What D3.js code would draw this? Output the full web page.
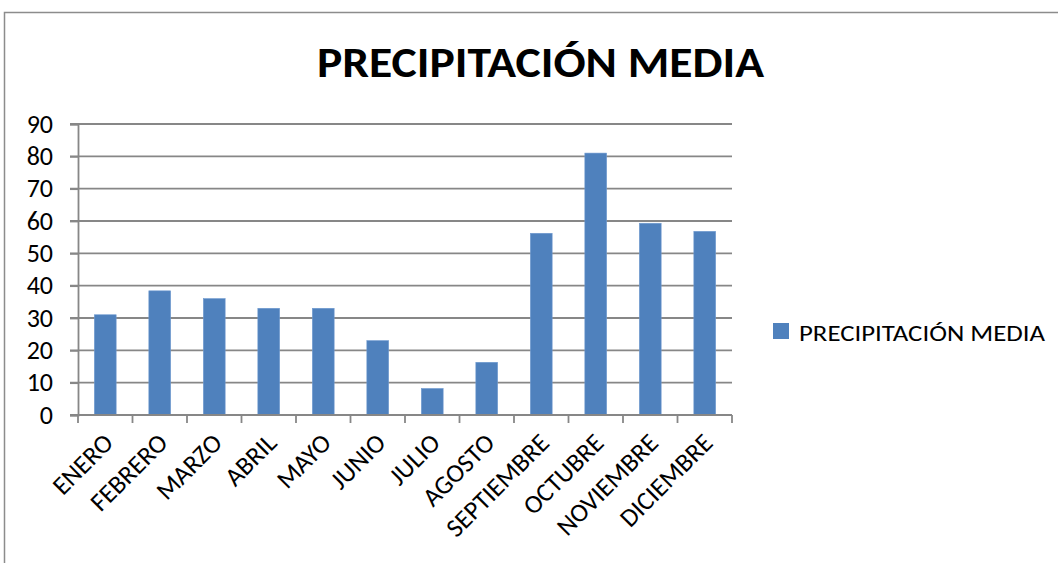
<!DOCTYPE html>
<html><head><meta charset="utf-8">
<script src="https://cdn.jsdelivr.net/npm/d3@7"></script>
<style>html,body{margin:0;padding:0;background:#fff;overflow:hidden}</style>
</head><body>
<svg id="c" width="1058" height="563"></svg>
<script>
const categories = ["ENERO","FEBRERO","MARZO","ABRIL","MAYO","JUNIO","JULIO","AGOSTO","SEPTIEMBRE","OCTUBRE","NOVIEMBRE","DICIEMBRE"];
const values = [31, 38.4, 36, 33, 33, 23, 8.2, 16.3, 56.2, 81, 59.3, 56.8];
const yTicks = [0,10,20,30,40,50,60,70,80,90];
const seriesName = "PRECIPITACIÓN MEDIA";
const titleText = "PRECIPITACIÓN MEDIA";

const svg = d3.select("#c");
const font = "Carlito, 'Liberation Sans', Arial, sans-serif";
const grid = "#878787";
const barColor = "#4F81BD";

// chart border
svg.append("rect").attr("x",4.5).attr("y",12.5).attr("width",1100).attr("height",600)
  .attr("fill","none").attr("stroke","#8c8c8c").attr("stroke-width",1.5);

const pLeft = 78, pRight = 732, pTop = 124, pBottom = 415;
const x = d3.scaleBand().domain(categories).range([pLeft,pRight]).paddingInner(0.6).paddingOuter(0.3);
const xb = d3.scaleBand().domain(categories).range([pLeft,pRight]);
const y = d3.scaleLinear().domain([0,90]).range([pBottom,pTop]);

// gridlines
svg.append("g").selectAll("line").data(yTicks).join("line")
  .attr("x1",70).attr("x2",pRight).attr("y1",d=>y(d)).attr("y2",d=>y(d))
  .attr("stroke",grid).attr("stroke-width",1.8);

// y axis
const ya = svg.append("g").attr("transform",`translate(${pLeft},0)`)
  .call(d3.axisLeft(y).tickValues(yTicks).tickSize(8).tickPadding(17));
ya.select(".domain").attr("stroke",grid).attr("stroke-width",1.8);
ya.selectAll(".tick line").attr("stroke",grid).attr("stroke-width",1.8);
ya.selectAll("text").attr("font-family",font).attr("font-size",26).attr("fill","#000");

// bars
svg.append("g").selectAll("rect").data(values).join("rect")
  .attr("x",(d,i)=>x(categories[i])).attr("width",x.bandwidth())
  .attr("y",d=>y(d)).attr("height",d=>y(0)-y(d))
  .attr("fill",barColor).attr("stroke","#6f9ad0").attr("stroke-width",0.6);

// x axis
const xa = svg.append("g").attr("transform",`translate(0,${pBottom})`);
xa.append("line").attr("x1",pLeft).attr("x2",pRight).attr("y1",0).attr("y2",0)
  .attr("stroke",grid).attr("stroke-width",1.8);
const bounds = categories.map(c=>xb(c)).concat([pRight]);
xa.selectAll("line.tk").data(bounds).join("line").attr("class","tk")
  .attr("x1",d=>d).attr("x2",d=>d).attr("y1",0).attr("y2",8)
  .attr("stroke",grid).attr("stroke-width",1.8);
xa.selectAll("text").data(categories).join("text")
  .attr("transform",d=>`translate(${xb(d)+xb.bandwidth()/2+3},${23}) rotate(-45)`)
  .attr("text-anchor","end").attr("font-family",font).attr("font-size",26).attr("fill","#000")
  .attr("dy","0.35em")
  .text(d=>d);

// title
svg.append("text").attr("x",540.5).attr("y",77).attr("text-anchor","middle")
  .attr("font-family",font).attr("font-weight","bold").attr("font-size",43)
  .attr("textLength",447).attr("lengthAdjust","spacingAndGlyphs")
  .text(titleText);

// legend
svg.append("rect").attr("x",773).attr("y",323).attr("width",16).attr("height",16).attr("fill",barColor);
svg.append("text").attr("x",799).attr("y",341).attr("font-family",font).attr("font-size",23)
  .attr("textLength",246).attr("lengthAdjust","spacingAndGlyphs").text(seriesName);
</script>
</body></html>
